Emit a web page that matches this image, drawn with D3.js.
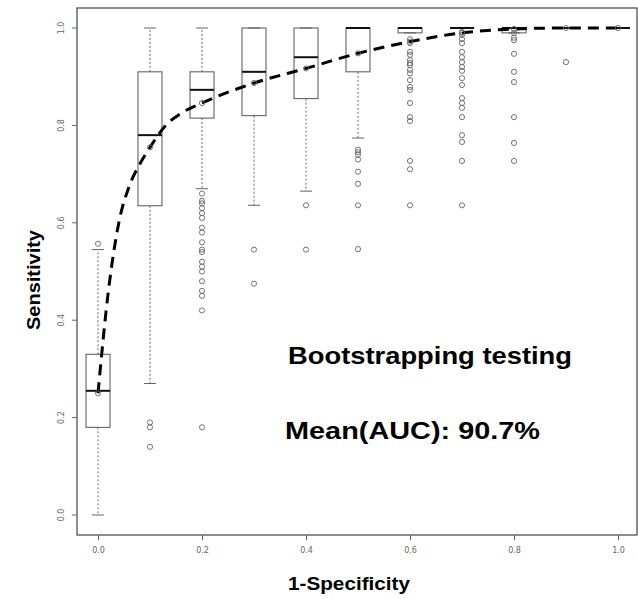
<!DOCTYPE html>
<html>
<head>
<meta charset="utf-8">
<script src="https://d3js.org/d3.v7.min.js"></script>
<style>body{margin:0;background:#fff}</style>
</head>
<body>
<svg id="chart" width="638" height="599"></svg>
<script>
const xs = [0.0, 0.1, 0.2, 0.3, 0.4, 0.5, 0.6, 0.7, 0.8, 0.9, 1.0];
const lowW = [0.0, 0.27, 0.67, 0.636, 0.665, 0.774, 0.99, 1.0, 0.99, 1.0, 1.0];
const q1 = [0.18, 0.635, 0.815, 0.82, 0.855, 0.91, 0.99, 1.0, 0.99, 1.0, 1.0];
const med = [0.255, 0.78, 0.873, 0.91, 0.94, 1.0, 1.0, 1.0, 1.0, 1.0, 1.0];
const q3 = [0.33, 0.91, 0.91, 1.0, 1.0, 1.0, 1.0, 1.0, 1.0, 1.0, 1.0];
const highW = [0.545, 1.0, 1.0, 1.0, 1.0, 1.0, 1.0, 1.0, 1.0, 1.0, 1.0];
const outliers = [
  [0.557],
  [0.19, 0.18, 0.14],
  [0.66, 0.645, 0.64, 0.63, 0.62, 0.61, 0.59, 0.58, 0.56, 0.545, 0.54, 0.52, 0.51, 0.50, 0.48, 0.46, 0.45, 0.42, 0.18],
  [0.545, 0.475],
  [0.636, 0.545],
  [0.75, 0.745, 0.74, 0.73, 0.705, 0.68, 0.636, 0.546],
  [0.977, 0.969, 0.951, 0.945, 0.934, 0.928, 0.924, 0.914, 0.907, 0.893, 0.879, 0.873, 0.846, 0.817, 0.809, 0.727, 0.71, 0.636],
  [0.992, 0.986, 0.977, 0.969, 0.951, 0.94, 0.93, 0.92, 0.912, 0.897, 0.883, 0.856, 0.846, 0.836, 0.817, 0.78, 0.766, 0.727, 0.636],
  [0.99, 0.98, 0.975, 0.947, 0.91, 0.889, 0.817, 0.764, 0.727],
  [0.93],
  []
];
const curveX = [0.0, 0.02, 0.04, 0.06, 0.08, 0.1, 0.13, 0.16, 0.2, 0.3, 0.4, 0.5, 0.6, 0.7, 0.8, 0.9, 1.0];
const curveY = [0.25, 0.46, 0.6, 0.675, 0.72, 0.755, 0.8, 0.825, 0.846, 0.887, 0.917, 0.948, 0.972, 0.99, 0.998, 1.0, 1.0];
const meanY = [0.25, 0.755, 0.846, 0.887, 0.917, 0.948, 0.972, 0.99, 0.998, 1.0, 1.0];
const ticks = [0, 0.2, 0.4, 0.6, 0.8, 1.0];

const svg = d3.select("#chart");
const x = d3.scaleLinear().domain([0, 1]).range([98, 618]);
const y = d3.scaleLinear().domain([0, 1]).range([515, 28]);
const grey = "#666";

svg.append("rect").attr("x", 77).attr("y", 8).attr("width", 560).attr("height", 527)
  .attr("fill", "none").attr("stroke", "#444").attr("stroke-width", 1.2);

const xAxis = svg.append("g").attr("transform", "translate(0,535)")
  .call(d3.axisBottom(x).tickValues(ticks).tickFormat(d3.format(".1f")).tickSize(5));
xAxis.select(".domain").remove();
xAxis.selectAll("line").attr("stroke", grey);
xAxis.selectAll("text").attr("fill", grey).attr("font-size", 8).attr("font-family", "DejaVu Sans").attr("dy", "1.2em");

const yAxis = svg.append("g").attr("transform", "translate(77,0)")
  .call(d3.axisLeft(y).tickValues(ticks).tickFormat(d3.format(".1f")).tickSize(5));
yAxis.select(".domain").remove();
yAxis.selectAll("line").attr("stroke", grey);
yAxis.selectAll("text").attr("fill", grey).attr("font-size", 8).attr("font-family", "DejaVu Sans")
  .attr("text-anchor", "middle").attr("x", 0).attr("dy", 0)
  .attr("transform", d => `translate(-13,${y(d)}) rotate(-90)`).attr("y", 0);
yAxis.selectAll(".tick").attr("transform", null);
yAxis.selectAll(".tick line").attr("transform", d => `translate(0,${y(d)})`);

const hw = 12;
const g = svg.append("g");
xs.forEach((xv, i) => {
  const cx = x(xv);
  g.append("line").attr("x1", cx).attr("x2", cx).attr("y1", y(q3[i])).attr("y2", y(highW[i]))
    .attr("stroke", grey).attr("stroke-dasharray", "2,2");
  g.append("line").attr("x1", cx).attr("x2", cx).attr("y1", y(q1[i])).attr("y2", y(lowW[i]))
    .attr("stroke", grey).attr("stroke-dasharray", "2,2");
  [lowW[i], highW[i]].forEach(v => g.append("line").attr("x1", cx - 6).attr("x2", cx + 6)
    .attr("y1", y(v)).attr("y2", y(v)).attr("stroke", grey));
  g.append("rect").attr("x", cx - hw).attr("y", y(q3[i])).attr("width", 2 * hw)
    .attr("height", Math.max(y(q1[i]) - y(q3[i]), 0)).attr("fill", "none").attr("stroke", "#555");
  g.append("line").attr("x1", cx - hw).attr("x2", cx + hw).attr("y1", y(med[i])).attr("y2", y(med[i]))
    .attr("stroke", "#111").attr("stroke-width", 2);
  outliers[i].forEach(v => g.append("circle").attr("cx", cx).attr("cy", y(v)).attr("r", 2.6)
    .attr("fill", "none").attr("stroke", grey).attr("stroke-width", 0.9));
});

const line = d3.line().x((d, i) => x(curveX[i])).y(d => y(d)).curve(d3.curveMonotoneX);
svg.append("path").attr("d", line(curveY)).attr("fill", "none").attr("stroke", "#000")
  .attr("stroke-width", 3).attr("stroke-dasharray", "11,7");
xs.forEach((xv, i) => svg.append("circle").attr("cx", x(xv)).attr("cy", y(meanY[i])).attr("r", 2.6)
  .attr("fill", "none").attr("stroke", grey).attr("stroke-width", 0.9));

const bold = s => s.attr("font-family", "Liberation Sans, Arial").attr("font-weight", "bold").attr("fill", "#000")
  .attr("lengthAdjust", "spacingAndGlyphs");
bold(svg.append("text").attr("x", 288).attr("y", 364).attr("font-size", 24).attr("textLength", 284)).text("Bootstrapping testing");
bold(svg.append("text").attr("x", 285).attr("y", 439).attr("font-size", 24).attr("textLength", 255)).text("Mean(AUC): 90.7%");
bold(svg.append("text").attr("x", 288).attr("y", 590).attr("font-size", 18).attr("textLength", 122)).text("1-Specificity");
bold(svg.append("text").attr("transform", "translate(40,330) rotate(-90)").attr("font-size", 18).attr("textLength", 100)).text("Sensitivity");
</script>
</body>
</html>
